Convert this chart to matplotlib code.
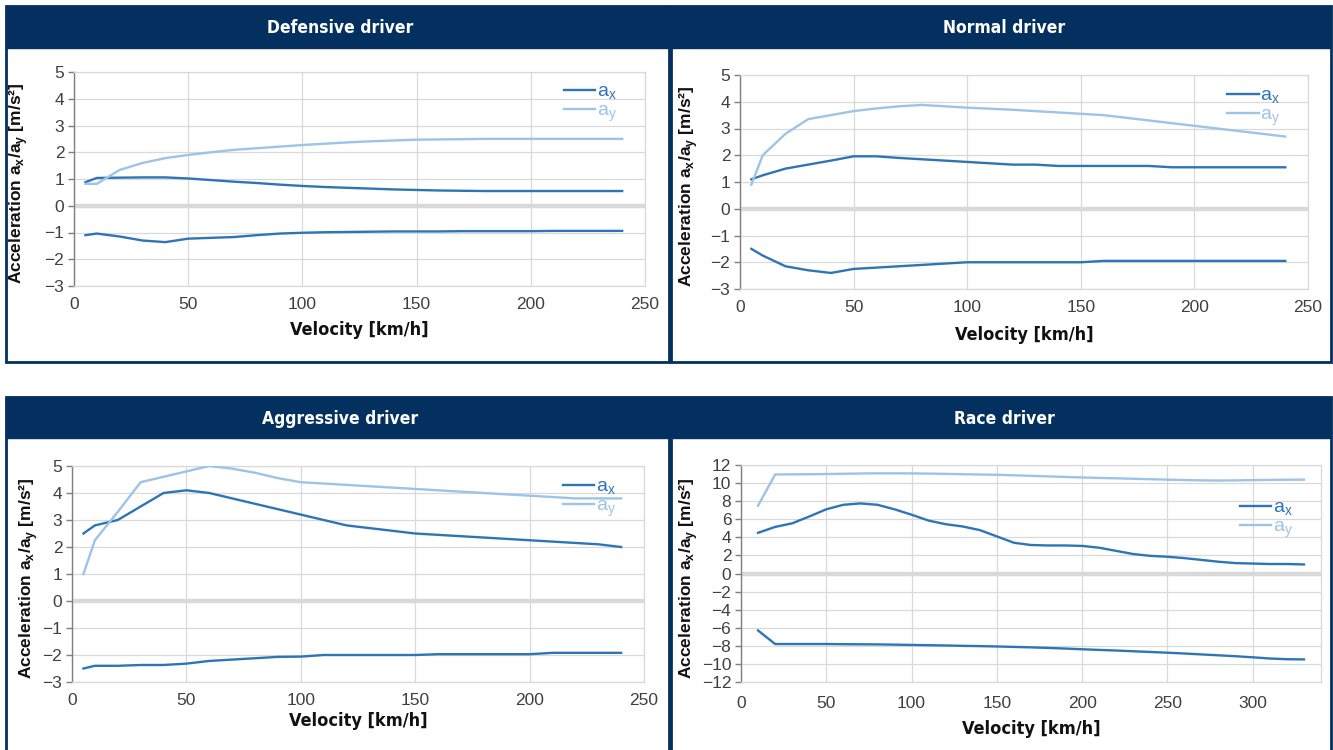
import matplotlib
matplotlib.use("Agg")
import matplotlib.pyplot as plt
from matplotlib.patches import Rectangle

W, H = 1333, 750

# ---------------- data ----------------
titles = ["Defensive driver", "Normal driver", "Aggressive driver", "Race driver"]

v_std = [5, 10, 20, 30, 40, 50, 60, 70, 80, 90, 100, 110, 120, 130, 140, 150,
         160, 170, 180, 190, 200, 210, 220, 230, 240]

def_ax_pos = [0.88, 1.04, 1.05, 1.06, 1.06, 1.02, 0.96, 0.90, 0.85, 0.79, 0.74, 0.70, 0.67,
              0.64, 0.61, 0.59, 0.57, 0.56, 0.55, 0.55, 0.55, 0.55, 0.55, 0.55, 0.55]
def_ax_neg = [-1.10, -1.04, -1.15, -1.30, -1.36, -1.23, -1.20, -1.17, -1.10, -1.04, -1.01, -0.99,
              -0.98, -0.97, -0.96, -0.96, -0.96, -0.95, -0.95, -0.95, -0.95, -0.94, -0.94, -0.94, -0.94]
def_ay = [0.82, 0.82, 1.34, 1.60, 1.78, 1.90, 2.00, 2.09, 2.15, 2.21, 2.27, 2.32, 2.37,
          2.41, 2.44, 2.47, 2.48, 2.49, 2.50, 2.50, 2.50, 2.50, 2.50, 2.50, 2.50]

nor_ax_pos = [1.10, 1.25, 1.50, 1.65, 1.80, 1.96, 1.96, 1.90, 1.85, 1.80, 1.75, 1.70, 1.65,
              1.65, 1.60, 1.60, 1.60, 1.60, 1.60, 1.55, 1.55, 1.55, 1.55, 1.55, 1.55]
nor_ax_neg = [-1.50, -1.75, -2.15, -2.30, -2.40, -2.25, -2.20, -2.15, -2.10, -2.05, -2.00, -2.00,
              -2.00, -2.00, -2.00, -2.00, -1.95, -1.95, -1.95, -1.95, -1.95, -1.95, -1.95, -1.95, -1.95]
nor_ay = [0.90, 2.00, 2.80, 3.35, 3.50, 3.65, 3.75, 3.83, 3.88, 3.83, 3.78, 3.74, 3.70,
          3.65, 3.60, 3.55, 3.50, 3.40, 3.30, 3.20, 3.10, 3.00, 2.90, 2.80, 2.70]

agg_ax_pos = [2.50, 2.80, 3.00, 3.50, 4.00, 4.10, 4.00, 3.80, 3.60, 3.40, 3.20, 3.00, 2.80,
              2.70, 2.60, 2.50, 2.45, 2.40, 2.35, 2.30, 2.25, 2.20, 2.15, 2.10, 2.00]
agg_ax_neg = [-2.50, -2.40, -2.40, -2.37, -2.37, -2.32, -2.22, -2.17, -2.12, -2.07, -2.06, -2.00,
              -2.00, -2.00, -2.00, -2.00, -1.97, -1.97, -1.97, -1.97, -1.97, -1.92, -1.92, -1.92, -1.92]
agg_ay = [1.00, 2.25, 3.30, 4.40, 4.60, 4.80, 5.00, 4.90, 4.75, 4.55, 4.40, 4.35, 4.30,
          4.25, 4.20, 4.15, 4.10, 4.05, 4.00, 3.95, 3.90, 3.85, 3.80, 3.80, 3.80]

v_race = [10, 20, 30, 40, 50, 60, 70, 80, 90, 100, 110, 120, 130, 140, 150, 160, 170,
          180, 190, 200, 210, 220, 230, 240, 250, 260, 270, 280, 290, 300, 310, 320, 330]
race_ax_pos = [4.5, 5.15, 5.55, 6.3, 7.1, 7.6, 7.75, 7.6, 7.1, 6.5, 5.85, 5.45, 5.2, 4.8, 4.1,
               3.4, 3.15, 3.1, 3.1, 3.05, 2.85, 2.5, 2.15, 1.95, 1.85, 1.7, 1.5, 1.3, 1.15,
               1.1, 1.05, 1.05, 1.0]
race_ax_neg = [-6.3, -7.8, -7.8, -7.8, -7.8, -7.82, -7.83, -7.84, -7.87, -7.9, -7.93, -7.96,
               -8.0, -8.03, -8.07, -8.12, -8.17, -8.23, -8.3, -8.38, -8.45, -8.52, -8.6,
               -8.68, -8.76, -8.85, -8.95, -9.05, -9.15, -9.27, -9.4, -9.48, -9.5]
race_ay = [7.5, 10.95, 10.97, 10.98, 11.0, 11.03, 11.06, 11.08, 11.08, 11.07, 11.05, 11.02,
           10.98, 10.95, 10.92, 10.86, 10.8, 10.74, 10.68, 10.62, 10.57, 10.53, 10.48,
           10.43, 10.38, 10.34, 10.3, 10.28, 10.3, 10.33, 10.35, 10.37, 10.38]

x_label = "Velocity [km/h]"
y_label = r"Acceleration a$_\mathregular{x}$/a$_\mathregular{y}$ [m/s²]"
legend_labels = [r"a$_\mathregular{x}$", r"a$_\mathregular{y}$"]

# ---------------- style ----------------
NAVY = "#03305F"
C_AX = "#2E75B6"
C_AY = "#9DC3E6"
GRID = "#D9D9D9"
TICK_C = "#404040"

plt.rcParams["mathtext.fontset"] = "custom"
plt.rcParams["mathtext.rm"] = "Liberation Sans"
plt.rcParams["mathtext.bf"] = "Liberation Sans:bold"

fig = plt.figure(figsize=(W / 100, H / 100), dpi=100)
fig.patch.set_facecolor("white")


def frect(x0, y0, x1, y1, **kw):
    # pixel coords (top-left origin) -> figure fraction
    r = Rectangle((x0 / W, 1 - y1 / H), (x1 - x0) / W, (y1 - y0) / H,
                  transform=fig.transFigure, **kw)
    fig.add_artist(r)


# panel frames: (x0, y0, x1, y1, header_bottom)
panels = [(6, 6, 669, 362, 48), (671, 6, 1331, 362, 48),
          (6, 397, 669, 752, 438), (671, 397, 1331, 752, 438)]
for (x0, y0, x1, y1, hb) in panels:
    frect(x0, y0, x1, y1, facecolor="white", edgecolor=NAVY, lw=2.0, zorder=0)
    frect(x0, y0, x1, hb, facecolor=NAVY, edgecolor=NAVY, lw=1.0, zorder=0)

# axes boxes in pixels (left, top, right, bottom)
boxes = [(74, 72, 645, 286), (740, 75, 1308, 289),
         (72, 466, 644, 682), (741, 465, 1321, 682)]
ylabel_x = [-0.077, -0.07, -0.056, -0.071]
ylabel_y = [0.48, 0.48, 0.48, 0.48]
xlabel_y = [-0.165, -0.175, -0.14, -0.175]

series = [
    (v_std, def_ax_pos, def_ax_neg, def_ay),
    (v_std, nor_ax_pos, nor_ax_neg, nor_ay),
    (v_std, agg_ax_pos, agg_ax_neg, agg_ay),
    (v_race, race_ax_pos, race_ax_neg, race_ay),
]
xlims = [(0, 250), (0, 250), (0, 250), (0, 340)]
ylims = [(-3, 5), (-3, 5), (-3, 5), (-12, 12)]
ysteps = [1, 1, 1, 2]
leg_anchor = [(0.965, 0.985), (0.965, 0.98), (0.965, 0.98), (0.965, 0.88)]

for i in range(4):
    l, t, r, b = boxes[i]
    ax = fig.add_axes([l / W, 1 - b / H, (r - l) / W, (b - t) / H])
    v, axp, axn, ay = series[i]
    ax.set_xlim(*xlims[i])
    ax.set_ylim(*ylims[i])
    ax.set_xticks(range(0, 301 if i == 3 else 251, 50))
    ys = ysteps[i]
    ax.set_yticks(range(ylims[i][0], ylims[i][1] + 1, ys))
    ax.grid(True, color=GRID, lw=0.9, zorder=0)
    ax.axhline(0, color=GRID, lw=3.2, zorder=1)
    for s in ["top", "right", "bottom"]:
        ax.spines[s].set_color(GRID)
        ax.spines[s].set_linewidth(0.9)
    ax.spines["left"].set_color("#7F7F7F")
    ax.spines["left"].set_linewidth(1.0)
    ax.tick_params(axis="y", direction="out", length=4, width=1, color="#7F7F7F",
                   labelsize=12.5, labelcolor=TICK_C, pad=3)
    ax.tick_params(axis="x", length=0, labelsize=12.5, labelcolor=TICK_C,
                   pad=8 if i < 3 else 10)
    for lab in ax.get_xticklabels() + ax.get_yticklabels():
        lab.set_family("Liberation Sans")

    l1, = ax.plot(v, axp, color=C_AX, lw=1.7, zorder=3, label=legend_labels[0])
    ax.plot(v, axn, color=C_AX, lw=1.7, zorder=3)
    l2, = ax.plot(v, ay, color=C_AY, lw=1.7, zorder=3, label=legend_labels[1])

    leg = ax.legend(handles=[l1, l2], loc="upper right", bbox_to_anchor=leg_anchor[i],
                    frameon=False, handlelength=1.6, handletextpad=0.1,
                    labelspacing=0.0, borderaxespad=0,
                    prop={"family": "Liberation Sans", "size": 14})
    for txt, c in zip(leg.get_texts(), [C_AX, C_AY]):
        txt.set_color(c)

    ax.set_ylabel(y_label, fontsize=12.5, fontweight="bold", color="#111111",
                  family="Liberation Sans")
    ax.yaxis.set_label_coords(ylabel_x[i], ylabel_y[i])
    ax.set_xlabel(x_label, fontsize=13, fontweight="bold", color="#111111",
                  family="DejaVu Sans", fontstretch="condensed")
    ax.xaxis.set_label_coords(0.5, xlabel_y[i])

    x0, y0, x1, y1, hb = panels[i]
    fig.text(((x0 + x1) / 2 + 3) / W, 1 - ((y0 + hb) / 2 + 1) / H, titles[i],
             color="white", fontsize=12.5, fontweight="bold", family="DejaVu Sans",
             fontstretch="condensed", ha="center", va="center")

fig.savefig("out.png", dpi=100, facecolor="white")
